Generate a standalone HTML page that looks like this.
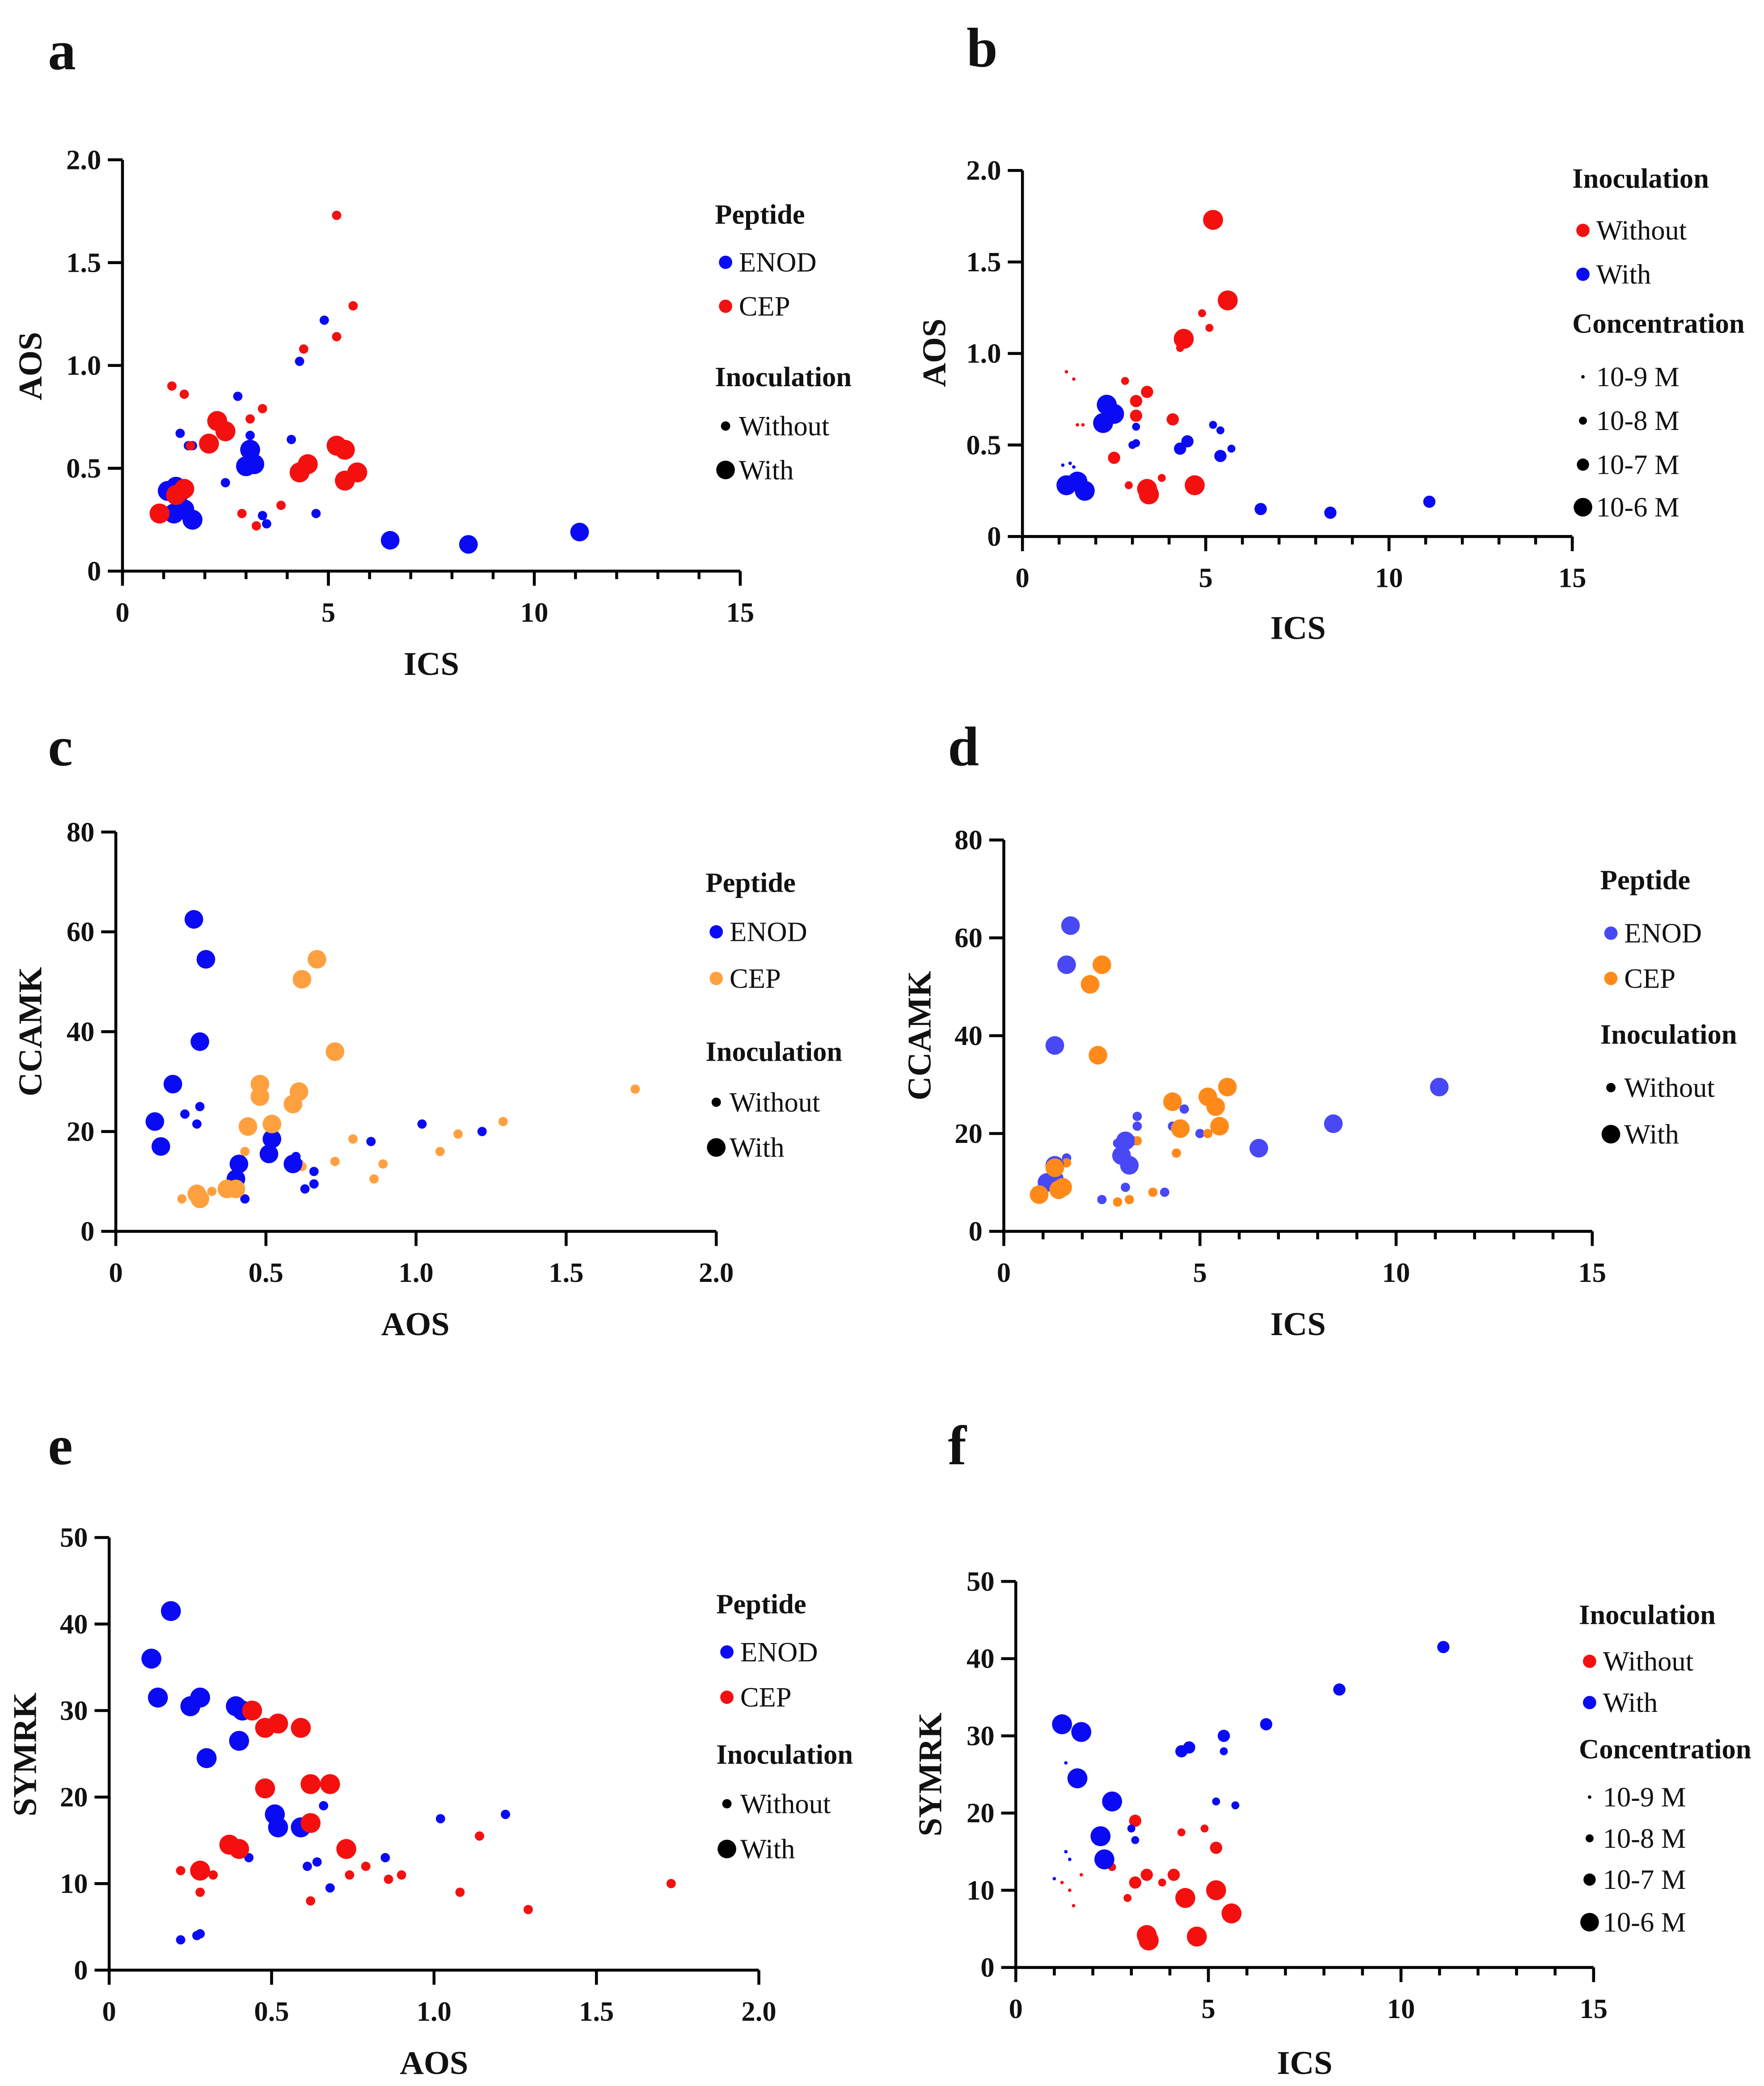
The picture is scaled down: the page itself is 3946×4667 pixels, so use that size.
<!DOCTYPE html>
<html><head><meta charset="utf-8">
<style>
html,body{margin:0;padding:0;background:#fff;}
svg{display:block;}
text{font-family:"Liberation Serif",serif;fill:#111;}
</style></head>
<body>
<svg id="fig" width="3946" height="4667" viewBox="0 0 1325 1567" xmlns="http://www.w3.org/2000/svg"></svg>
<script>
// ---- data: [x, y, inoculated(0/1) or concentration code] ----
const aEnodWithout=[[1.4,0.67],[1.6,0.61],[2.5,0.43],[2.8,0.85],[3.1,0.66],[3.4,0.27],[3.5,0.23],[4.1,0.64],[4.3,1.02],[4.7,0.28],[4.9,1.22],[1.7,0.61]];
const aEnodWith=[[1.1,0.39],[1.3,0.41],[1.25,0.28],[1.5,0.3],[1.7,0.25],[3.0,0.51],[3.1,0.59],[3.2,0.52]];
const aEnodWith2=[[6.5,0.15],[8.4,0.13],[11.1,0.19],[1.4,0.38]];
const aCepWithout=[[1.2,0.9],[1.5,0.86],[1.65,0.61],[2.9,0.28],[3.1,0.74],[3.25,0.22],[3.4,0.79],[3.85,0.32],[4.4,1.08],[5.2,1.73],[5.2,1.14],[5.6,1.29]];
const aCepWith=[[0.9,0.28],[1.3,0.37],[1.5,0.4],[2.1,0.62],[2.3,0.73],[2.5,0.68],[4.3,0.48],[4.5,0.52],[5.2,0.61],[5.4,0.59],[5.4,0.44],[5.7,0.48]];

const bRed=[[5.2,1.73,4],[5.6,1.29,4],[4.4,1.08,4],[4.3,1.03,2],[4.9,1.22,2],[5.1,1.14,2],[3.4,0.26,4],[3.45,0.23,4],[4.7,0.28,4],[3.1,0.74,3],[3.4,0.79,3],[3.1,0.66,3],[4.1,0.64,3],[2.8,0.85,2],[2.5,0.43,3],[3.8,0.32,2],[2.9,0.28,2],[1.2,0.9,1],[1.4,0.86,1],[1.5,0.61,1],[1.65,0.61,1]];
const bBlue=[[2.3,0.72,4],[2.2,0.62,4],[2.5,0.67,4],[1.2,0.28,4],[1.5,0.3,4],[1.7,0.25,4],[6.5,0.15,3],[8.4,0.13,3],[11.1,0.19,3],[4.3,0.48,3],[4.5,0.52,3],[5.4,0.44,3],[5.2,0.61,2],[5.4,0.58,2],[5.7,0.48,2],[3.1,0.6,2],[3.1,0.51,2],[3.0,0.5,2],[1.1,0.39,1],[1.3,0.4,1],[1.4,0.38,1],[1.2,0.3,1]];

const cEnodWith=[[0.26,62.5],[0.3,54.5],[0.28,38],[0.19,29.5],[0.13,22],[0.15,17],[0.41,13.5],[0.4,10.5],[0.52,18.5],[0.51,15.5],[0.59,13.5]];
const cEnodWithout=[[0.23,23.5],[0.28,25],[0.27,21.5],[0.43,6.5],[0.6,15],[0.61,13.5],[0.63,8.5],[0.66,9.5],[0.66,12],[0.85,18],[1.02,21.5],[1.22,20]];
const cCepWith=[[0.67,54.5],[0.62,50.5],[0.73,36],[0.48,29.5],[0.48,27],[0.61,28],[0.59,25.5],[0.44,21],[0.52,21.5],[0.37,8.5],[0.4,8.5],[0.27,7.5],[0.28,6.5]];
const cCepWithout=[[0.22,6.5],[0.32,8],[0.79,18.5],[0.86,10.5],[0.89,13.5],[1.08,16],[1.14,19.5],[1.29,22],[1.73,28.5],[0.62,13],[0.73,14],[0.43,16]];

const dEnodWith=[[1.7,62.5],[1.6,54.5],[1.3,38],[11.1,29.5],[8.4,22],[6.5,17],[3.1,18.5],[3.0,15.5],[3.2,13.5],[1.1,10],[1.3,13.5]];
const dEnodWithout=[[2.9,18],[3.4,23.5],[3.4,21.5],[3.1,9],[2.5,6.5],[4.1,8],[4.3,21.5],[4.6,25],[5.0,20],[1.6,15],[3.3,18.5],[1.4,11]];
const dCepWith=[[2.5,54.5],[2.2,50.5],[2.4,36],[5.7,29.5],[5.2,27.5],[4.3,26.5],[5.4,25.5],[4.5,21],[5.5,21.5],[0.9,7.5],[1.4,8.5],[1.5,9],[1.3,13]];
const dCepWithout=[[2.9,6],[3.2,6.5],[3.4,18.5],[3.8,8],[4.4,16],[5.2,20],[5.4,21],[1.6,14],[1.2,13.5],[1.5,8.5]];

const eEnodWith=[[0.19,41.5],[0.13,36],[0.15,31.5],[0.25,30.5],[0.28,31.5],[0.39,30.5],[0.41,30],[0.3,24.5],[0.4,26.5],[0.51,18],[0.52,16.5],[0.59,16.5]];
const eEnodWithout=[[0.22,3.5],[0.27,4],[0.28,4.2],[0.43,13],[0.61,12],[0.64,12.5],[0.66,19],[0.68,9.5],[0.85,13],[1.02,17.5],[1.22,18]];
const eCepWith=[[0.44,30],[0.48,28],[0.52,28.5],[0.59,28],[0.48,21],[0.62,21.5],[0.68,21.5],[0.62,17],[0.73,14],[0.37,14.5],[0.4,14],[0.28,11.5]];
const eCepWithout=[[0.22,11.5],[0.28,9],[0.32,11],[0.62,8],[0.74,11],[0.79,12],[0.86,10.5],[0.9,11],[1.08,9],[1.14,15.5],[1.29,7],[1.73,10]];

const fBlue=[[11.1,41.5,3],[8.4,36,3],[6.5,31.5,3],[1.2,31.5,4],[1.7,30.5,4],[1.6,24.5,4],[2.5,21.5,4],[2.2,17,4],[2.3,14,4],[4.3,28,3],[4.5,28.5,3],[5.4,30,3],[5.4,28,2],[5.2,21.5,2],[5.7,21,2],[3.0,18,2],[3.1,16.5,2],[1.3,15,1],[1.4,14,1],[1.0,11.5,1],[1.3,26.5,1]];
const fRed=[[3.4,4.2,4],[3.45,3.5,4],[4.7,4,4],[4.4,9,4],[5.2,10,4],[5.6,7,4],[3.1,19,3],[3.1,11,3],[3.4,12,3],[4.1,12,3],[5.2,15.5,3],[2.5,13,2],[2.9,9,2],[3.8,11,2],[4.3,17.5,2],[4.9,18,2],[1.2,11,1],[1.4,10,1],[1.5,8,1],[1.7,12,1]];

const icsTicks=[0,5,10,15];
const aosTicks=[0,0.5,1.0,1.5,2.0];
const aosTickLabels=["0","0.5","1.0","1.5","2.0"];
const ccamkTicks=[0,20,40,60,80];
const symrkTicks=[0,10,20,30,40,50];
const concLabels=["10-9 M","10-8 M","10-7 M","10-6 M"];

const NS="http://www.w3.org/2000/svg";
const svg=document.getElementById('fig');
function el(tag,attrs,parent){const e=document.createElementNS(NS,tag);for(const k in attrs)e.setAttribute(k,attrs[k]);(parent||svg).appendChild(e);return e;}
function txt(s,x,y,size,bold,parent,anchor){const t=el('text',{x:x,y:y,'font-size':size,'font-weight':bold?'bold':'normal','text-anchor':anchor||'start'},parent);t.textContent=s;return t;}

function panel(p){
  const g=el('g',{});
  
  
  const sx=v=>p.x0+(v-p.xmin)/(p.xmax-p.xmin)*(p.x1-p.x0);
  const sy=v=>p.y0-(v-p.ymin)/(p.ymax-p.ymin)*(p.y0-p.y1);
  const lt=txt(p.id,p.lx,p.ly,42,true,g);
  
  
  const ax=el('g',{stroke:'#000','stroke-width':2.2,fill:'none'},g);
  
  
  el('line',{x1:p.x0,y1:p.y0,x2:p.x1,y2:p.y0},ax);
  el('line',{x1:p.x0,y1:p.y0,x2:p.x0,y2:p.y1},ax);
  p.xt.forEach((v,i)=>{const X=sx(v);el('line',{x1:X,y1:p.y0,x2:X,y2:p.y0+11},ax);
    const t=txt(p.xl[i],X,p.y0+38,21,true,g,'middle');});
  if(p.xminor){for(let v=p.xmin;v<=p.xmax;v+=p.xminor){el('line',{x1:sx(v),y1:p.y0,x2:sx(v),y2:p.y0+6},ax);}}
  p.yt.forEach((v,i)=>{const Y=sy(v);el('line',{x1:p.x0,y1:Y,x2:p.x0-11,y2:Y},ax);
    const t=txt(p.yl[i],p.x0-16,Y+7,21,true,g,'end');});
  const xt=txt(p.xtitle,p.xtx,p.xty,25,true,g,'middle');
  
  const yt=txt(p.ytitle,0,0,25,true,g,'middle');yt.setAttribute('transform','translate('+p.ytx+','+p.yty+') rotate(-90)');
  
  p.series.forEach(s=>{s.data.forEach(d=>{
    const r=s.sizes?s.sizes[d[2]-1]:s.r;
    const c=el('circle',{cx:sx(d[0]),cy:sy(d[1]),r:r,fill:s.color},g);
    
    
  });});
  p.legend.forEach(L=>{
    if(L.h){const t=txt(L.t,p.legx,L.y,21,true,g);}
    else{const c=el('circle',{cx:p.legx+8,cy:L.y-7,r:L.r,fill:L.c},g);
      const t=txt(L.t,p.legx+18,L.y,21,false,g);}
  });
}
const B='#0a0af5',R='#f51010',O='#ffa040',O2='#ff8a1a',B2='#4848f5';
const bs=[1.3,3,4.6,7.5];
panel({id:'a',lx:36,ly:52,x0:92,x1:556,y0:429,y1:120,xmin:0,xmax:15,ymin:0,ymax:2,xt:icsTicks,xl:icsTicks.map(String),xminor:1,yt:aosTicks,yl:aosTickLabels,
 xtitle:'ICS',xtx:324,xty:507,ytitle:'AOS',ytx:31,yty:275,
 series:[{data:aEnodWithout,color:B,r:3.5,name:'enod-without-point'},{data:aCepWithout,color:R,r:3.5,name:'cep-without-point'},{data:aEnodWith,color:B,r:7.5,name:'enod-with-point'},{data:aEnodWith2,color:B,r:7,name:'enod-with-point'},{data:aCepWith,color:R,r:7.5,name:'cep-with-point'}],
 legx:537,legend:[{h:1,t:'Peptide',y:168},{t:'ENOD',y:204,c:B,r:5},{t:'CEP',y:237,c:R,r:5},{h:1,t:'Inoculation',y:290},{t:'Without',y:327,c:'#000',r:3.5},{t:'With',y:360,c:'#000',r:7}]});
panel({id:'b',lx:726,ly:50,x0:768,x1:1181,y0:403,y1:128,xmin:0,xmax:15,ymin:0,ymax:2,xt:icsTicks,xl:icsTicks.map(String),xminor:1,yt:aosTicks,yl:aosTickLabels,
 xtitle:'ICS',xtx:975,xty:480,ytitle:'AOS',ytx:710,yty:265,
 series:[{data:bRed,color:R,sizes:bs,name:'without-point'},{data:bBlue,color:B,sizes:bs,name:'with-point'}],
 legx:1181,legend:[{h:1,t:'Inoculation',y:141},{t:'Without',y:180,c:R,r:5},{t:'With',y:213,c:B,r:5},{h:1,t:'Concentration',y:250},{t:concLabels[0],y:290,c:'#000',r:1.3},{t:concLabels[1],y:323,c:'#000',r:3},{t:concLabels[2],y:356,c:'#000',r:4.6},{t:concLabels[3],y:388,c:'#000',r:7}]});
panel({id:'c',lx:36,ly:575,x0:87,x1:538,y0:925,y1:625,xmin:0,xmax:2,ymin:0,ymax:80,xt:aosTicks,xl:aosTickLabels,yt:ccamkTicks,yl:ccamkTicks.map(String),
 xtitle:'AOS',xtx:312,xty:1003,ytitle:'CCAMK',ytx:31,yty:775,
 series:[{data:cEnodWithout,color:B,r:3.5,name:'enod-without-point'},{data:cCepWithout,color:O,r:3.5,name:'cep-without-point'},{data:cEnodWith,color:B,r:7,name:'enod-with-point'},{data:cCepWith,color:O,r:7,name:'cep-with-point'}],
 legx:530,legend:[{h:1,t:'Peptide',y:670},{t:'ENOD',y:707,c:B,r:5},{t:'CEP',y:742,c:O,r:5},{h:1,t:'Inoculation',y:797},{t:'Without',y:835,c:'#000',r:3.5},{t:'With',y:869,c:'#000',r:7}]});
panel({id:'d',lx:712,ly:575,x0:754,x1:1196,y0:925,y1:631,xmin:0,xmax:15,ymin:0,ymax:80,xt:icsTicks,xl:icsTicks.map(String),xminor:1,yt:ccamkTicks,yl:ccamkTicks.map(String),
 xtitle:'ICS',xtx:975,xty:1003,ytitle:'CCAMK',ytx:699,yty:778,
 series:[{data:dEnodWithout,color:B2,r:3.5,name:'enod-without-point'},{data:dCepWithout,color:O2,r:3.5,name:'cep-without-point'},{data:dEnodWith,color:B2,r:7,name:'enod-with-point'},{data:dCepWith,color:O2,r:7,name:'cep-with-point'}],
 legx:1202,legend:[{h:1,t:'Peptide',y:668},{t:'ENOD',y:708,c:B2,r:5},{t:'CEP',y:742,c:O2,r:5},{h:1,t:'Inoculation',y:784},{t:'Without',y:824,c:'#000',r:3.5},{t:'With',y:859,c:'#000',r:7}]});
panel({id:'e',lx:36,ly:1100,x0:82,x1:570,y0:1480,y1:1155,xmin:0,xmax:2,ymin:0,ymax:50,xt:aosTicks,xl:aosTickLabels,yt:symrkTicks,yl:symrkTicks.map(String),
 xtitle:'AOS',xtx:326,xty:1558,ytitle:'SYMRK',ytx:27,yty:1318,
 series:[{data:eEnodWithout,color:B,r:3.5,name:'enod-without-point'},{data:eCepWithout,color:R,r:3.5,name:'cep-without-point'},{data:eEnodWith,color:B,r:7.5,name:'enod-with-point'},{data:eCepWith,color:R,r:7.5,name:'cep-with-point'}],
 legx:538,legend:[{h:1,t:'Peptide',y:1212},{t:'ENOD',y:1248,c:B,r:5},{t:'CEP',y:1282,c:R,r:5},{h:1,t:'Inoculation',y:1325},{t:'Without',y:1362,c:'#000',r:3.5},{t:'With',y:1396,c:'#000',r:7}]});
panel({id:'f',lx:712,ly:1100,x0:763,x1:1197,y0:1478,y1:1188,xmin:0,xmax:15,ymin:0,ymax:50,xt:icsTicks,xl:icsTicks.map(String),xminor:1,yt:symrkTicks,yl:symrkTicks.map(String),
 xtitle:'ICS',xtx:980,xty:1558,ytitle:'SYMRK',ytx:707,yty:1333,
 series:[{data:fRed,color:R,sizes:bs,name:'without-point'},{data:fBlue,color:B,sizes:bs,name:'with-point'}],
 legx:1186,legend:[{h:1,t:'Inoculation',y:1220},{t:'Without',y:1255,c:R,r:5},{t:'With',y:1286,c:B,r:5},{h:1,t:'Concentration',y:1321},{t:concLabels[0],y:1357,c:'#000',r:1.3},{t:concLabels[1],y:1388,c:'#000',r:3},{t:concLabels[2],y:1419,c:'#000',r:4.6},{t:concLabels[3],y:1451,c:'#000',r:7}]});
</script>
</body></html>
